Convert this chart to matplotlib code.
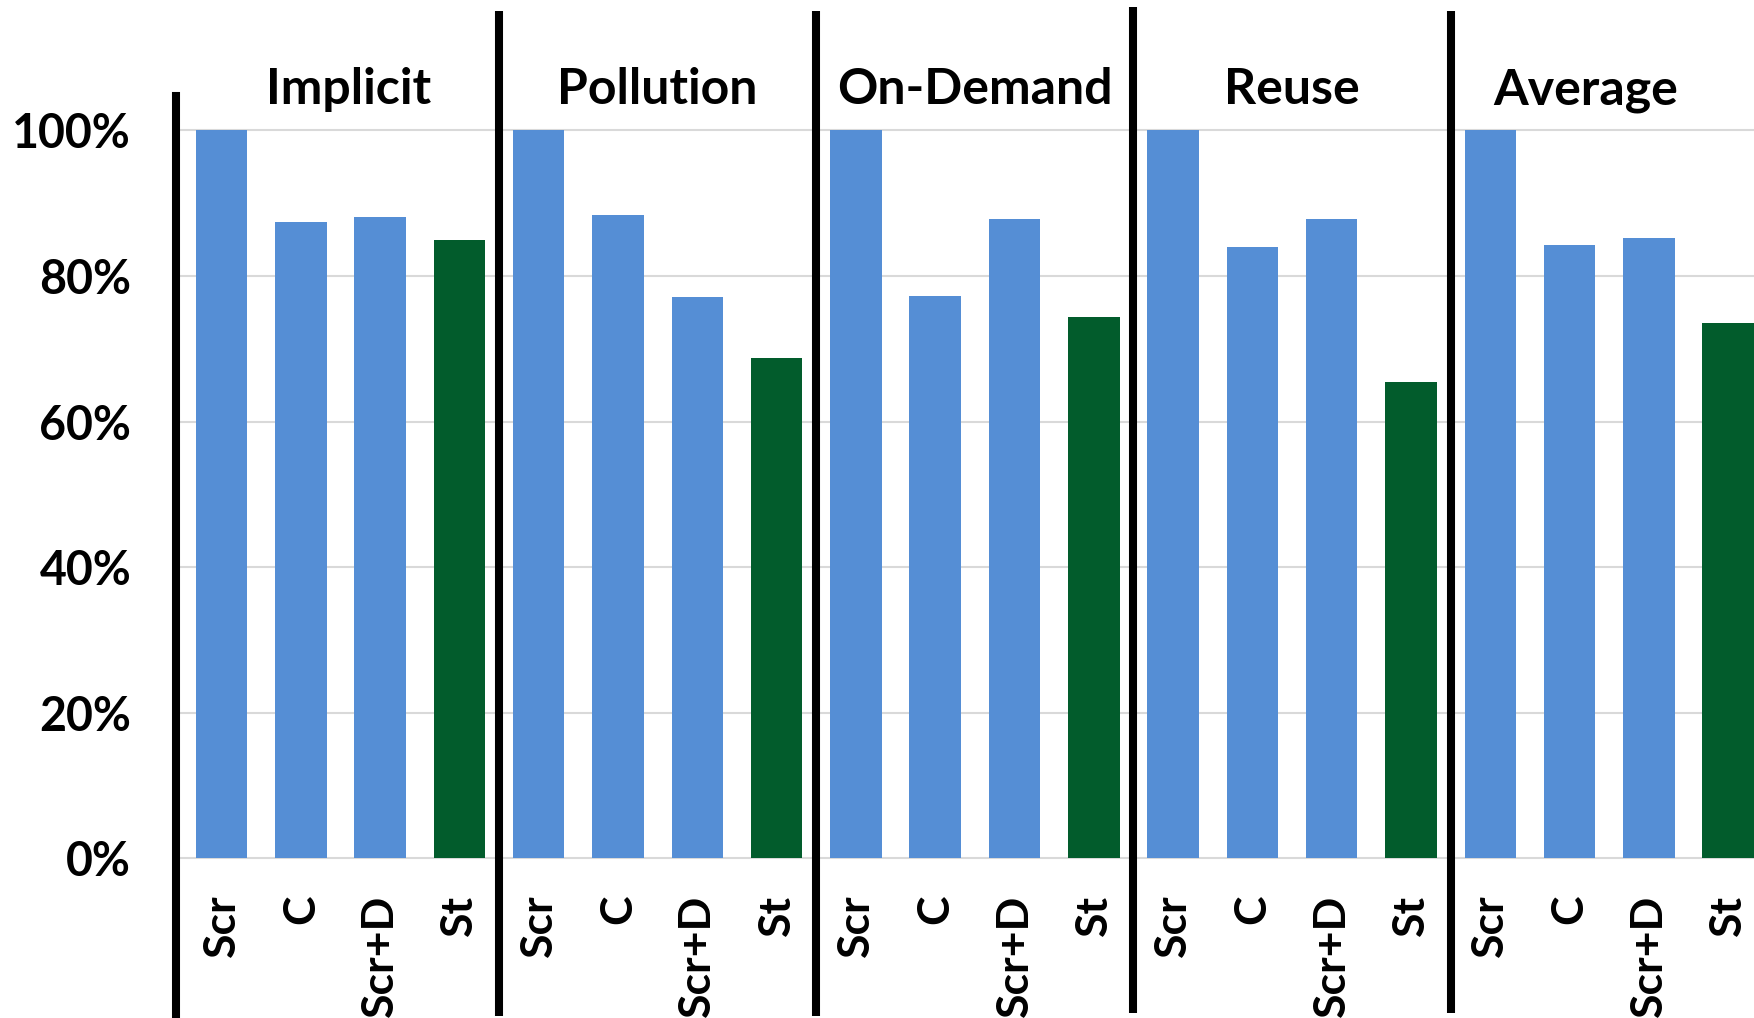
import matplotlib
matplotlib.use("Agg")
import matplotlib.pyplot as plt
from matplotlib.ticker import FuncFormatter

plt.rcParams["font.family"] = ["Lato", "DejaVu Sans"]
plt.rcParams["font.weight"] = "bold"

# Per-benchmark results, normalised to the Scr baseline (percent)
groups = ["Implicit", "Pollution", "On-Demand", "Reuse", "Average"]
methods = ["Scr", "C", "Scr+D", "St"]
scr = [100, 100, 100, 100, 100]
c = [87.4, 88.4, 77.2, 84.0, 84.3]
scr_d = [88.1, 77.1, 87.9, 87.8, 85.2]
st = [84.9, 68.8, 74.4, 65.4, 73.5]

BLUE = "#558ED5"
GREEN = "#025C2C"

values, colors, labels = [], [], []
for g in range(len(groups)):
    for m, series in enumerate([scr, c, scr_d, st]):
        values.append(series[g])
        colors.append(GREEN if m == 3 else BLUE)
        labels.append(methods[m])
xs = list(range(len(values)))

fig = plt.figure(figsize=(17.54, 10.18), dpi=100)
ax = fig.add_axes([175.6 / 1754, 0, 1 - 175.6 / 1754, 1])

ax.bar(xs, values, width=0.65, color=colors, zorder=2)

ax.set_xlim(-0.579, 19.325)
ax.set_ylim(-21.94, 117.93)

# y axis: percent ticks with light horizontal grid
ax.set_yticks(range(0, 101, 20))
ax.yaxis.set_major_formatter(FuncFormatter(lambda v, _: f"{v:.0f}%"))
ax.tick_params(axis="y", length=0, pad=32, labelsize=33.5)
ax.set_xticks([])
ax.yaxis.grid(True, color="#D9D9D9", linewidth=1.5)
ax.set_axisbelow(True)

for side in ["top", "right", "bottom"]:
    ax.spines[side].set_visible(False)
ax.spines["left"].set_linewidth(5.8)
ax.spines["left"].set_color("black")
ax.spines["left"].set_bounds(-21.7, 104.7)

# thick separators between benchmark groups
sep_x = [3.5, 7.5, 11.5, 15.5]
sep_top = [116.4, 116.4, 117.0, 116.4]
sep_bottom = [-21.7, -21.7, -21.3, -21.3]
for x, top, bot in zip(sep_x, sep_top, sep_bottom):
    ax.vlines(x, bot, top, color="black", linewidth=5.8, zorder=3)

# method names under each bar, rotated
for x, lab in zip(xs, labels):
    ax.text(x, -5.0, lab, rotation=90, ha="center", va="top", fontsize=32,
            fontweight="bold")

# group titles above the bars
title_x = [1.6, 5.5, 9.5, 13.5, 17.2]
for x, name in zip(title_x, groups):
    ax.text(x, 103.6, name, ha="center", va="baseline", fontsize=36,
            fontweight="bold")

fig.savefig("out.png", dpi=100)
plt.close(fig)
